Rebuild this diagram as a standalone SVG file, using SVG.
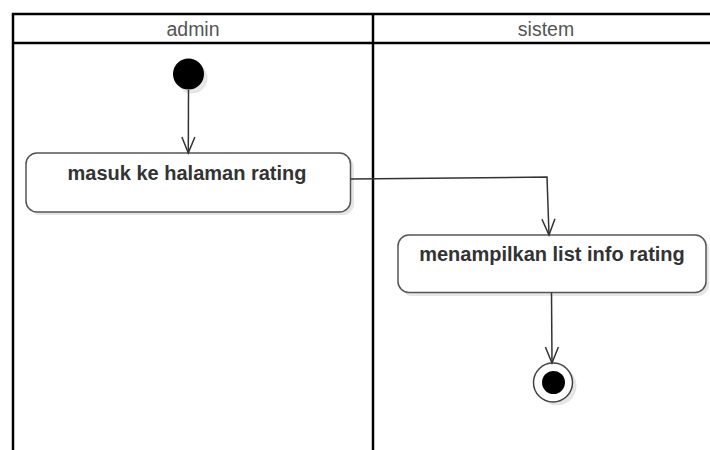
<svg xmlns="http://www.w3.org/2000/svg" width="710" height="450" viewBox="0 0 710 450">
<defs>
<style>
.frame{fill:none;stroke:#000;stroke-width:2.5}
.lane{font-family:"Liberation Sans",Arial,sans-serif;font-size:19.5px;fill:#555;text-anchor:middle}
.act{fill:#fff;stroke:#555;stroke-width:1.5}
.shadow{fill:#e6e6e6;stroke:none}
.lbl{font-family:"Liberation Sans",Arial,sans-serif;font-size:20px;font-weight:bold;fill:#333;text-anchor:middle}
.edge{fill:none;stroke:#333;stroke-width:1.5}
</style>
<marker id="arr" markerUnits="userSpaceOnUse" markerWidth="20" markerHeight="16" viewBox="-17 -8 19 16" refX="0" refY="0" orient="auto">
<path d="M-16,-6.5 L0,0 L-16,6.5" fill="none" stroke="#333" stroke-width="1.5"/>
</marker>
</defs>
<rect width="710" height="450" fill="#fff"/>
<g id="pool">
<path class="frame" d="M13,450 V14 H710 M13,43 H710 M373,14 V450"/>
<text class="lane" x="193" y="36">admin</text>
<text class="lane" x="546" y="36">sistem</text>
</g>
<g id="start">
<circle class="shadow" cx="192" cy="78" r="15.5"/>
<circle cx="188.5" cy="74" r="15.5" fill="#000"/>
</g>
<g id="act1">
<rect class="shadow" x="29" y="156" width="325" height="59" rx="11"/>
<rect class="act" x="26" y="153" width="324.5" height="59" rx="11"/>
<text class="lbl" x="187" y="180">masuk ke halaman rating</text>
</g>
<g id="act2">
<rect class="shadow" x="401" y="238" width="308" height="58" rx="11"/>
<rect class="act" x="398" y="235" width="308" height="57.5" rx="11"/>
<text class="lbl" x="552" y="261">menampilkan list info rating</text>
</g>
<g id="end">
<circle class="shadow" cx="557" cy="386" r="19.5"/>
<circle cx="553" cy="382.5" r="19.5" fill="#fff" stroke="#444" stroke-width="1.5"/>
<circle cx="553.5" cy="382.5" r="11.5" fill="#000"/>
</g>
<g id="connectors">
<path class="edge" d="M188.5,90 L188.3,153" marker-end="url(#arr)"/>
<path class="edge" d="M350.5,179 L547,177 L549,235" marker-end="url(#arr)"/>
<path class="edge" d="M551.5,292.5 L552,363" marker-end="url(#arr)"/>
</g>
</svg>
